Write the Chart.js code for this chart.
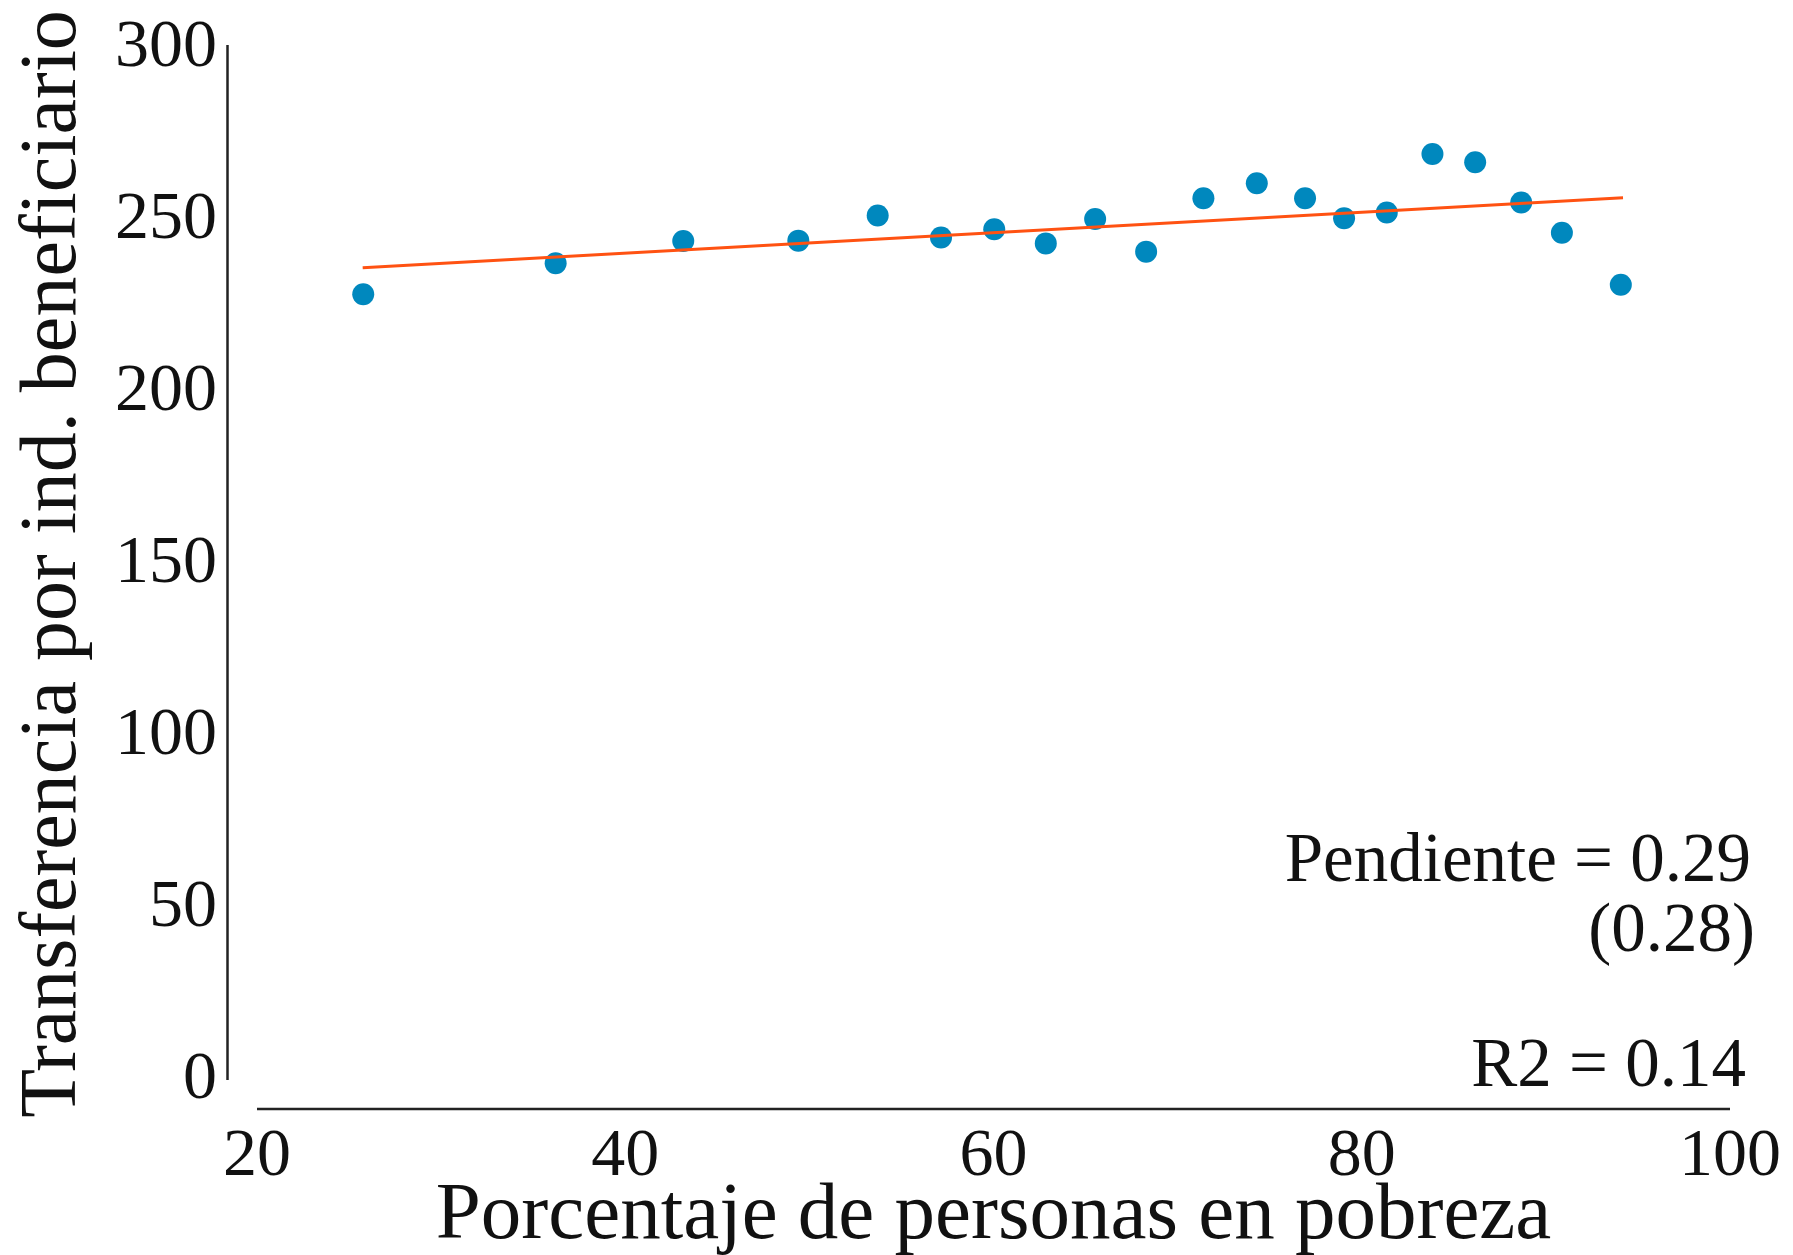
<!DOCTYPE html>
<html>
<head>
<meta charset="utf-8">
<script src="https://cdn.jsdelivr.net/npm/chart.js@4.4.1/dist/chart.umd.min.js"></script>
<style>
  html, body { margin: 0; padding: 0; background: #ffffff; }
  #wrap { position: relative; width: 1793px; height: 1255px; }
</style>
</head>
<body>
<div id="wrap"><canvas id="c"></canvas></div>
<script>
// ---- Data ----
const pobreza = [25.77, 36.22, 43.15, 49.40, 53.71, 57.15, 60.04, 62.84, 65.52, 68.29,
                 71.40, 74.30, 76.92, 79.04, 81.36, 83.84, 86.16, 88.66, 90.87, 94.07];
const transferencia = [228.4, 237.4, 243.9, 244.0, 251.3, 244.9, 247.3, 243.2, 250.3, 240.8,
                       256.3, 260.7, 256.3, 250.5, 252.2, 269.2, 266.8, 255.1, 246.3, 231.2];
const ajusteX = [25.74, 94.19];
const ajusteY = [236.1, 256.5];
const xTicks = [20, 40, 60, 80, 100];
const yTicks = [0, 50, 100, 150, 200, 250, 300];
const xTitle = 'Porcentaje de personas en pobreza';
const yTitle = 'Transferencia por ind. beneficiario';
const statLines = ['Pendiente = 0.29', '(0.28)', 'R2 = 0.14'];

const FONT = '"Liberation Serif", "Times New Roman", serif';
const INK = '#111111';

const scatterData = pobreza.map((x, i) => ({ x: x, y: transferencia[i] }));
const fitData = ajusteX.map((x, i) => ({ x: x, y: ajusteY[i] }));

const axisLines = {
  id: 'axisLines',
  afterDraw(chart) {
    const { ctx, chartArea } = chart;
    const xs = chart.scales.x, ys = chart.scales.y;
    ctx.save();
    ctx.strokeStyle = '#222222';
    ctx.lineWidth = 2.5;
    // y axis line (offset to the left of the plot region)
    const yx = chartArea.left - 29.5;
    ctx.beginPath();
    ctx.moveTo(yx, ys.getPixelForValue(yTicks[yTicks.length - 1]) - 3);
    ctx.lineTo(yx, ys.getPixelForValue(yTicks[0]));
    ctx.stroke();
    // x axis line (offset below the plot region)
    const xy = chartArea.bottom + 29;
    ctx.beginPath();
    ctx.moveTo(xs.getPixelForValue(xTicks[0]), xy);
    ctx.lineTo(xs.getPixelForValue(xTicks[xTicks.length - 1]), xy);
    ctx.stroke();
    // statistics text
    ctx.fillStyle = INK;
    ctx.font = '69px ' + FONT;
    ctx.textAlign = 'right';
    ctx.textBaseline = 'alphabetic';
    const r = chartArea.right;
    ctx.fillText(statLines[0], r + 21, 881);
    ctx.fillText(statLines[1], r + 25, 951);
    ctx.fillText(statLines[2], r + 16, 1086);
    ctx.restore();
  }
};

new Chart(document.getElementById('c'), {
  data: {
    datasets: [
      {
        type: 'line',
        data: fitData,
        borderColor: '#FF5212',
        borderWidth: 3,
        pointRadius: 0,
        fill: false,
        tension: 0
      },
      {
        type: 'scatter',
        data: scatterData,
        backgroundColor: '#0088BE',
        borderWidth: 0,
        pointRadius: 11,
        pointHoverRadius: 11
      }
    ]
  },
  options: {
    responsive: true,
    maintainAspectRatio: false,
    animation: false,
    events: [],
    layout: { padding: { top: 48, right: 63, bottom: 0, left: 0 } },
    plugins: { legend: { display: false }, tooltip: { enabled: false } },
    scales: {
      x: {
        type: 'linear',
        min: xTicks[0],
        max: xTicks[xTicks.length - 1],
        afterBuildTicks: (s) => { s.ticks = xTicks.map(v => ({ value: v })); },
        afterFit: (s) => { s.height = 175; s.paddingLeft = 0; s.paddingRight = 0; s.paddingTop = 0; s.paddingBottom = 0; },
        grid: { display: false, drawTicks: false },
        border: { display: false },
        ticks: {
          maxRotation: 0,
          padding: 43,
          color: INK,
          font: { family: FONT, size: 68, lineHeight: 1 }
        },
        title: {
          display: true,
          text: xTitle,
          color: INK,
          font: { family: FONT, size: 81, lineHeight: 0.4 },
          padding: { top: 3, bottom: 22 }
        }
      },
      y: {
        type: 'linear',
        min: yTicks[0],
        max: yTicks[yTicks.length - 1],
        afterBuildTicks: (s) => { s.ticks = yTicks.map(v => ({ value: v })); },
        afterFit: (s) => { s.width = 257; s.paddingLeft = 0; s.paddingRight = 0; s.paddingTop = 0; s.paddingBottom = 0; },
        grid: { display: false, drawTicks: false },
        border: { display: false },
        ticks: {
          padding: 40,
          color: INK,
          font: { family: FONT, size: 68, lineHeight: 1 }
        },
        title: {
          display: true,
          text: yTitle,
          color: INK,
          font: { family: FONT, size: 80, lineHeight: 1.2 },
          padding: { top: 6, bottom: 19 }
        }
      }
    }
  },
  plugins: [axisLines]
});
</script>
</body>
</html>
